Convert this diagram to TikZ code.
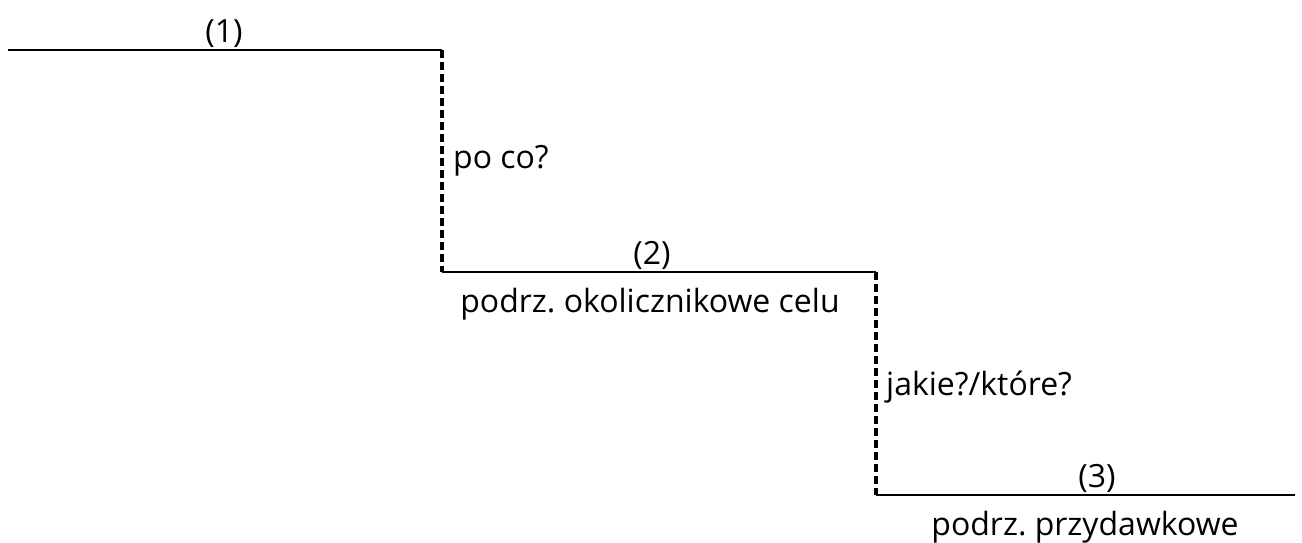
\documentclass[tikz,border=0pt]{standalone}
\usepackage{fontspec}
\setmainfont{Open Sans}
\frenchspacing
\begin{document}
\begin{tikzpicture}[x=1pt,y=-1pt,
  level/.style={line width=1.5pt},
  link/.style={line width=4pt,dash pattern=on 8pt off 4pt},
  lbl/.style={font=\fontsize{32}{38}\selectfont,inner sep=0pt,anchor=base}]
\useasboundingbox (0,0) rectangle (1302,542);
\coordinate (a1) at (8,50);
\coordinate (b1) at (442,50);
\coordinate (a2) at (442,272);
\coordinate (b2) at (876,272);
\coordinate (a3) at (876,495);
\coordinate (b3) at (1295,495);
\draw[level] (a1) -- (b1);
\draw[level] (a2) -- (b2);
\draw[level] (a3) -- (b3);
\draw[link] (b1) -- (a2);
\draw[link] (b2) -- (a3);
\node[lbl] (n1) at (224,42) {(1)};
\node[lbl] (n2) at (652,264) {(2)};
\node[lbl] (n3) at (1097,487) {(3)};
\node[lbl] (t2) at (650,312) {podrz. okolicznikowe celu};
\node[lbl] (t3) at (1085,535) {podrz. przydawkowe};
\node[lbl,anchor=base west] (q1) at (453,168) {po co?};
\node[lbl,anchor=base west] (q2) at (886,395) {jakie?/które?};
\end{tikzpicture}
\end{document}
